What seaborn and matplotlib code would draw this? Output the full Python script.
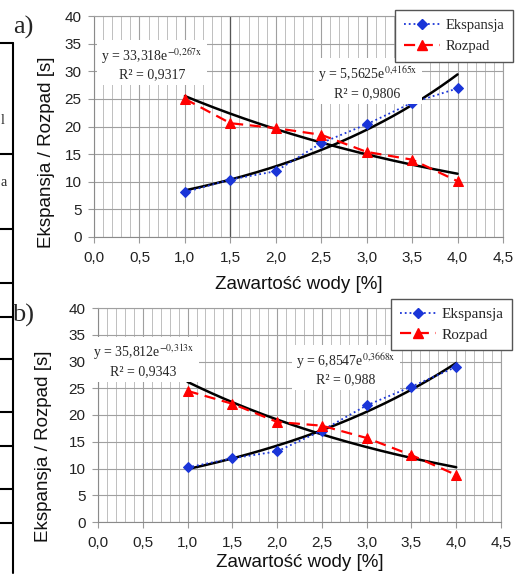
import numpy as np
import pandas as pd
import matplotlib
matplotlib.use("Agg")
import matplotlib.pyplot as plt
import seaborn as sns
from matplotlib.ticker import MultipleLocator, FuncFormatter
from matplotlib.lines import Line2D

# ---------------- data ----------------
water = [1.0, 1.5, 2.0, 2.5, 3.0, 3.5, 4.0]
eksp_a = [8.1, 10.4, 11.9, 17.0, 20.4, 24.3, 26.9]
rozp_a = [25.0, 20.6, 19.7, 18.5, 15.4, 14.0, 10.1]
eksp_b = [10.2, 11.9, 13.2, 17.1, 21.8, 25.3, 29.0]
rozp_b = [24.5, 22.1, 18.7, 18.0, 15.7, 12.5, 8.8]

# exponential trend coefficients shown on the chart: y = A*exp(B*x)
fit_eksp_a = [5.5625, 0.4165]
fit_rozp_a = [33.318, -0.267]
fit_eksp_b = [6.8547, 0.3668]
fit_rozp_b = [35.812, -0.313]
r2_eksp_a, r2_rozp_a = "0,9806", "0,9317"
r2_eksp_b, r2_rozp_b = "0,988", "0,9343"

series_names = ["Ekspansja", "Rozpad"]
panel_labels = ["a)", "b)"]
xlabel = "Zawartość wody [%]"
ylabel = "Ekspansja / Rozpad [s]"

# ---------------- style ----------------
sns.set_theme(style="white")
plt.rcParams["font.family"] = ["Liberation Sans", "DejaVu Sans"]
plt.rcParams["mathtext.fontset"] = "stix"
SERIF = ["Liberation Serif", "DejaVu Serif"]

BLUE = "#1a35d8"
RED = "#ff0000"
W, H = 523, 575

fig = plt.figure(figsize=(5.23, 5.75), dpi=100)
ax_a = fig.add_axes([94 / W, 1 - 237 / H, 409 / W, 221 / H])
ax_b = fig.add_axes([98 / W, 1 - 522 / H, 403 / W, 214 / H])


def comma(v, fmt):
    return fmt.format(v).replace(".", ",")


def draw_panel(ax, eksp, rozp, fe, fr, r2e, r2r, box_r, box_e, leg_anchor,
               xlab_y, ylab_xy, leg_size, leg_pad, leg_space, dark15=False):
    df = pd.DataFrame({"x": water * 2,
                       "y": eksp + rozp,
                       "s": [series_names[0]] * len(water) + [series_names[1]] * len(water)})
    xs = np.linspace(water[0], water[-1], 200)
    trend = pd.DataFrame({"x": np.concatenate([xs, xs]),
                          "y": np.concatenate([fe[0] * np.exp(fe[1] * xs), fr[0] * np.exp(fr[1] * xs)]),
                          "s": ["e"] * len(xs) + ["r"] * len(xs)})
    sns.lineplot(data=trend, x="x", y="y", units="s", estimator=None, color="black",
                 lw=1.8, ax=ax, zorder=3, legend=False)
    sns.lineplot(data=df[df.s == series_names[0]], x="x", y="y", color=BLUE, ls=":", lw=1.3,
                 marker="D", markersize=5.5, markeredgecolor=BLUE, ax=ax, zorder=4, legend=False)
    sns.lineplot(data=df[df.s == series_names[1]], x="x", y="y", color=RED, ls=(0, (5, 3)), lw=1.6,
                 marker="^", markersize=7, markeredgecolor=RED, ax=ax, zorder=4, legend=False)

    ax.set_xlim(0, 4.5)
    ax.set_ylim(0, 40)
    ax.xaxis.set_major_locator(MultipleLocator(0.5))
    ax.xaxis.set_minor_locator(MultipleLocator(0.1))
    ax.yaxis.set_major_locator(MultipleLocator(5))
    ax.xaxis.set_major_formatter(FuncFormatter(lambda v, p: comma(v, "{:.1f}")))
    ax.yaxis.set_major_formatter(FuncFormatter(lambda v, p: comma(v, "{:.0f}")))
    ax.grid(True, which="major", color="#a0a0a0", lw=0.8)
    ax.grid(True, which="minor", axis="x", color="#b4b4b4", lw=0.6)
    ax.set_axisbelow(True)
    if dark15:
        ax.axvline(1.5, color="#555555", lw=0.9, zorder=1)
    for sp in ax.spines.values():
        sp.set_color("#8a8a8a")
        sp.set_linewidth(0.8)
    ax.spines["top"].set_color("#a0a0a0")
    ax.spines["right"].set_color("#a0a0a0")
    ax.tick_params(axis="y", which="major", labelsize=11, colors="#9a9a9a",
                   labelcolor="#222222", length=4, width=0.8, pad=5, left=True)
    ax.tick_params(axis="x", which="major", labelsize=11, colors="#9a9a9a",
                   labelcolor="#222222", length=4, width=0.8, pad=6, bottom=True)
    ax.tick_params(axis="x", which="minor", bottom=False)
    ax.set_xlabel(xlabel, fontsize=13.5, color="#111111")
    ax.xaxis.set_label_coords(0.5, xlab_y)
    ax.set_ylabel("")
    fig.text(ylab_xy[0] / W, 1 - ylab_xy[1] / H, ylabel, rotation=90, ha="center",
             va="center", fontsize=13.5, color="#111111")

    bbox = dict(facecolor="white", edgecolor="none", pad=3)
    ax.text(box_r[0], box_r[1],
            "y = %se$^{%s\\mathrm{x}}$\nR² = %s" % (str(fr[0]).replace(".", ","),
                                                   "-" + str(abs(fr[1])).replace(".", "{,}"), r2r),
            ha="center", va="center", fontsize=10, family=SERIF, linespacing=1.25,
            bbox=bbox, zorder=6)
    ax.text(box_e[0], box_e[1],
            "y = %se$^{%s\\mathrm{x}}$\nR² = %s" % (str(fe[0]).replace(".", ","),
                                                   str(fe[1]).replace(".", "{,}"), r2e),
            ha="center", va="center", fontsize=10, family=SERIF, linespacing=1.25,
            bbox=bbox, zorder=6)

    handles = [Line2D([], [], color=BLUE, ls=":", lw=1.3, marker="D", markersize=5.5),
               Line2D([], [], color=RED, ls=(0, (5, 3)), lw=1.6, marker="^", markersize=7)]
    fig.legend(handles, series_names, loc="upper right", bbox_to_anchor=leg_anchor,
               bbox_transform=fig.transFigure, frameon=True, fancybox=False,
               edgecolor="#555555", framealpha=1, prop={"family": SERIF, "size": leg_size},
               handlelength=2.5 * 10.5 / leg_size, borderpad=leg_pad, labelspacing=leg_space,
               handletextpad=0.35, borderaxespad=0)


draw_panel(ax_a, eksp_a, rozp_a, fit_eksp_a, fit_rozp_a, r2_eksp_a, r2_rozp_a,
           (0.64, 31.4), (3.01, 28.0), (513 / W, 1 - 10 / H), -0.177, (47, 152),
           10.5, 0.6, 0.55, dark15=True)
draw_panel(ax_b, eksp_b, rozp_b, fit_eksp_b, fit_rozp_b, r2_eksp_b, r2_rozp_b,
           (0.51, 30.2), (2.77, 28.7), (512 / W, 1 - 299 / H), -0.148, (44, 446),
           11, 0.55, 0.45)

# panel labels
fig.text(13 / W, 1 - 27.5 / H, panel_labels[0], fontsize=19, family=SERIF, va="center", ha="left")
fig.text(12 / W, 1 - 315 / H, panel_labels[1], fontsize=19, family=SERIF, va="center", ha="left")

# fragments of the surrounding document table at the left edge
for yy in [43, 154, 229, 283, 317, 359, 412, 446, 489, 523]:
    fig.add_artist(Line2D([0, 12.5 / W], [1 - yy / H, 1 - yy / H], color="black", lw=1.5))
fig.add_artist(Line2D([12.5 / W, 12.5 / W], [1 - 43 / H, 1 - 573 / H], color="black", lw=1.5))
fig.text(0.5 / W, 1 - 183 / H, "a", fontsize=10, family=SERIF, va="center", ha="left")
fig.text(0.5 / W, 1 - 121 / H, "l", fontsize=10, family=SERIF, va="center", ha="left")

fig.savefig("out.png", dpi=100)
